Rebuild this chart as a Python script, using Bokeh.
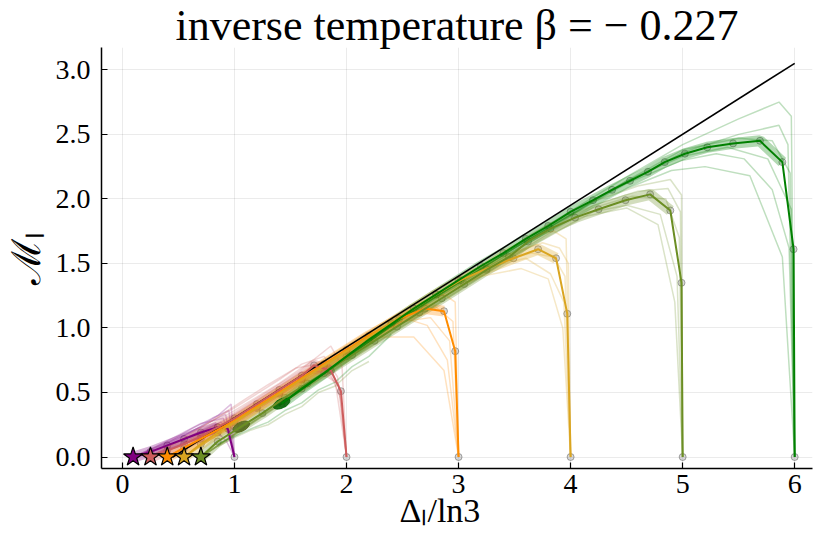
from bokeh.plotting import figure
from bokeh.models import Range1d, FixedTicker, PrintfTickFormatter
from bokeh.embed import file_html
from bokeh.resources import INLINE

# ---------------- data ----------------
TITLE = "inverse temperature β = − 0.227"
X_LABEL = "Δₗ/ln3\u00a0\u00a0\u00a0\u00a0"
Y_LABEL = "ℳₗ"
X_TICKS = [0, 1, 2, 3, 4, 5, 6]
Y_TICKS = [0.0, 0.5, 1.0, 1.5, 2.0, 2.5, 3.0]

COLORS = ["#800080", "#CD5C5C", "#FF8C00", "#DAA520", "#6B8E23", "#008000"]

# reference line
REF_X = [0.45, 6.0]
REF_Y = [0.0, 3.05]

# stars (first point of each series)
STAR_X = [0.095, 0.25, 0.40, 0.55, 0.70]
STAR_Y = [0.0, 0.0, 0.0, 0.0, 0.0]
STAR_COLORS = ["#800080", "#CD5C5C", "#FF8C00", "#DAA520", "#6B8E23"]

# main (averaged) curves
MAIN_X = [
    [0.10, 0.25, 0.40, 0.55, 0.70, 0.85, 0.94, 1.00],
    [0.25, 0.40, 0.55, 0.70, 0.85, 1.00, 1.20, 1.40, 1.60, 1.71, 1.86, 1.95, 2.00],
    [0.40, 0.55, 0.70, 0.85, 1.00, 1.20, 1.40, 1.60, 1.80, 2.00, 2.20, 2.47, 2.70, 2.87, 2.97, 3.00],
    [0.55, 0.70, 0.85, 1.00, 1.20, 1.40, 1.60, 1.80, 2.00, 2.20, 2.40, 2.60, 2.80, 3.02, 3.25, 3.49,
     3.71, 3.87, 3.97, 4.00],
    [0.70, 0.85, 1.06, 1.25, 1.45, 1.65, 1.85, 2.05, 2.25, 2.45, 2.65, 2.85, 3.05, 3.25, 3.45, 3.62,
     3.82, 4.04, 4.25, 4.49, 4.71, 4.89, 4.99, 5.00],
    [1.42, 1.60, 1.80, 2.00, 2.20, 2.40, 2.60, 2.80, 3.00, 3.20, 3.40, 3.60, 3.80, 4.00, 4.20, 4.37,
     4.53, 4.69, 4.84, 5.02, 5.22, 5.45, 5.69, 5.89, 5.99, 6.00],
]
MAIN_Y = [
    [0.00, 0.04, 0.09, 0.14, 0.19, 0.23, 0.22, 0.00],
    [0.00, 0.05, 0.10, 0.16, 0.23, 0.30, 0.41, 0.52, 0.63, 0.71, 0.67, 0.51, 0.00],
    [0.00, 0.07, 0.14, 0.21, 0.28, 0.39, 0.50, 0.61, 0.72, 0.83, 0.94, 1.07, 1.15, 1.13, 0.82, 0.00],
    [0.00, 0.10, 0.19, 0.27, 0.38, 0.49, 0.60, 0.71, 0.82, 0.93, 1.04, 1.15, 1.26, 1.37, 1.46, 1.54,
     1.61, 1.54, 1.11, 0.00],
    [0.00, 0.12, 0.235, 0.34, 0.46, 0.57, 0.68, 0.79, 0.90, 1.01, 1.12, 1.23, 1.34, 1.45, 1.55, 1.67,
     1.77, 1.855, 1.92, 1.99, 2.035, 1.91, 1.35, 0.00],
    [0.415, 0.53, 0.65, 0.78, 0.91, 1.03, 1.15, 1.26, 1.37, 1.48, 1.58, 1.69, 1.79, 1.90, 1.99, 2.07,
     2.14, 2.21, 2.285, 2.35, 2.40, 2.43, 2.45, 2.285, 1.61, 0.00],
]

# individual (faint) curves, per series
FAINT_X = [
    [[0.10, 0.30, 0.50, 0.70, 0.85, 0.97, 1.00],
     [0.10, 0.30, 0.50, 0.70, 0.88, 0.96, 1.00],
     [0.10, 0.30, 0.50, 0.70, 0.85, 0.93, 1.00],
     [0.10, 0.30, 0.50, 0.70, 0.90, 1.00],
     [0.10, 0.25, 0.45, 0.60, 0.78, 0.92, 1.00],
     [0.10, 0.28, 0.42, 0.62, 0.80, 0.95, 1.00]],
    [[0.25, 0.60, 1.00, 1.40, 1.70, 1.86, 1.96, 2.00],
     [0.25, 0.60, 1.00, 1.40, 1.65, 1.85, 1.95, 2.00],
     [0.25, 0.60, 1.00, 1.40, 1.60, 1.80, 1.93, 2.00],
     [0.25, 0.60, 1.00, 1.40, 1.60, 1.80, 1.92, 2.00],
     [0.25, 0.50, 0.80, 1.10, 1.30, 1.55, 1.75, 1.90, 2.00]],
    [[0.40, 1.00, 1.60, 2.20, 2.60, 2.87, 2.97, 3.00],
     [0.40, 1.00, 1.60, 2.00, 2.30, 2.60, 2.87, 3.00],
     [0.40, 1.00, 1.60, 2.20, 2.50, 2.75, 2.92, 3.00],
     [0.40, 1.00, 1.60, 2.20, 2.50, 2.72, 2.90, 3.00],
     [0.40, 1.00, 1.60, 2.20, 2.55, 2.80, 2.95, 3.00]],
    [[0.55, 1.20, 2.00, 2.80, 3.40, 3.70, 3.85, 3.96, 4.00],
     [0.55, 1.20, 2.00, 2.80, 3.20, 3.56, 3.80, 3.93, 4.00],
     [0.55, 1.20, 2.00, 2.80, 3.30, 3.65, 3.85, 3.95, 4.00],
     [0.55, 1.20, 2.00, 2.80, 3.30, 3.60, 3.82, 3.94, 4.00],
     [0.55, 1.20, 2.00, 2.80, 3.40, 3.75, 3.90, 3.98, 4.00]],
    [[0.70, 1.50, 2.50, 3.50, 4.20, 4.60, 4.89, 4.99, 5.00],
     [0.70, 1.50, 2.50, 3.50, 4.20, 4.50, 4.80, 4.95, 5.00],
     [0.70, 1.50, 2.50, 3.50, 4.20, 4.55, 4.85, 4.97, 5.00],
     [0.70, 1.50, 2.50, 3.50, 4.10, 4.50, 4.78, 4.93, 5.00],
     [0.70, 1.50, 2.50, 3.50, 4.20, 4.60, 4.87, 4.98, 5.00],
     [0.85, 1.00, 1.15, 1.30, 1.45, 1.60, 1.75, 1.90, 2.05, 2.20]],
    [[1.40, 2.50, 3.50, 4.50, 5.00, 5.50, 5.86, 5.97, 6.00],
     [1.40, 2.50, 3.50, 4.50, 5.00, 5.50, 5.86, 5.94, 6.00],
     [1.40, 2.50, 3.50, 4.50, 4.90, 5.20, 5.60, 5.89, 6.00],
     [1.40, 2.50, 3.50, 4.50, 5.00, 5.40, 5.76, 5.97, 6.00],
     [1.40, 2.50, 3.50, 4.50, 5.00, 5.30, 5.55, 5.80, 5.95, 6.00],
     [1.40, 2.50, 3.50, 4.50, 5.00, 5.50, 5.80, 5.96, 6.00],
     [0.85, 1.00, 1.15, 1.30, 1.45, 1.60, 1.75, 1.90, 2.05, 2.20, 2.40]],
]
FAINT_Y = [
    [[0.00, 0.06, 0.14, 0.24, 0.32, 0.41, 0.00],
     [0.00, 0.05, 0.12, 0.20, 0.27, 0.20, 0.00],
     [0.00, 0.03, 0.09, 0.15, 0.19, 0.12, 0.00],
     [0.00, 0.08, 0.17, 0.26, 0.30, 0.00],
     [0.00, 0.05, 0.13, 0.19, 0.27, 0.33, 0.00],
     [0.00, 0.07, 0.12, 0.22, 0.30, 0.36, 0.00]],
    [[0.00, 0.16, 0.36, 0.57, 0.75, 0.86, 0.70, 0.00],
     [0.00, 0.12, 0.31, 0.52, 0.66, 0.66, 0.45, 0.00],
     [0.00, 0.14, 0.33, 0.55, 0.66, 0.64, 0.56, 0.00],
     [0.00, 0.18, 0.38, 0.60, 0.72, 0.78, 0.62, 0.00],
     [0.00, 0.12, 0.28, 0.45, 0.56, 0.69, 0.72, 0.58, 0.00]],
    [[0.00, 0.30, 0.63, 0.96, 1.18, 1.26, 1.20, 0.00],
     [0.00, 0.27, 0.58, 0.79, 0.93, 0.93, 0.67, 0.00],
     [0.00, 0.29, 0.60, 0.92, 1.05, 1.08, 0.90, 0.00],
     [0.00, 0.28, 0.61, 0.94, 1.08, 1.02, 0.75, 0.00],
     [0.00, 0.29, 0.62, 0.95, 1.10, 1.16, 1.05, 0.00]],
    [[0.00, 0.38, 0.82, 1.26, 1.60, 1.72, 1.75, 1.69, 0.00],
     [0.00, 0.37, 0.81, 1.24, 1.40, 1.46, 1.38, 1.00, 0.00],
     [0.00, 0.38, 0.82, 1.25, 1.50, 1.58, 1.55, 1.40, 0.00],
     [0.00, 0.38, 0.82, 1.25, 1.48, 1.54, 1.42, 1.20, 0.00],
     [0.00, 0.38, 0.82, 1.26, 1.56, 1.66, 1.62, 1.50, 0.00]],
    [[0.00, 0.48, 1.03, 1.58, 1.98, 2.10, 2.15, 2.03, 0.00],
     [0.00, 0.46, 1.01, 1.56, 1.90, 1.95, 1.88, 1.40, 0.00],
     [0.00, 0.47, 1.02, 1.57, 1.93, 2.02, 2.00, 1.70, 0.00],
     [0.00, 0.46, 1.01, 1.56, 1.86, 1.93, 1.80, 1.20, 0.00],
     [0.00, 0.47, 1.02, 1.57, 1.95, 2.06, 2.08, 1.90, 0.00],
     [0.08, 0.15, 0.21, 0.25, 0.33, 0.39, 0.50, 0.55, 0.67, 0.74]],
    [[0.40, 1.08, 1.64, 2.17, 2.42, 2.62, 2.75, 2.64, 0.00],
     [0.40, 1.08, 1.62, 2.13, 2.36, 2.50, 2.57, 2.42, 0.00],
     [0.40, 1.07, 1.60, 2.08, 2.22, 2.25, 2.18, 1.55, 0.00],
     [0.40, 1.08, 1.62, 2.14, 2.33, 2.40, 2.31, 1.92, 0.00],
     [0.40, 1.08, 1.62, 2.12, 2.30, 2.35, 2.31, 2.07, 1.62, 0.00],
     [0.40, 1.08, 1.62, 2.14, 2.38, 2.47, 2.45, 2.20, 0.00],
     [0.10, 0.16, 0.22, 0.27, 0.36, 0.42, 0.52, 0.58, 0.70, 0.78, 0.95]],
]

# dense clusters of points near the start of the last two series
BLOB_X = [1.06, 1.42]
BLOB_Y = [0.235, 0.415]
BLOB_COLORS = ["#556B1F", "#006000"]

# ---------------- figure ----------------
FONT = "Liberation Serif"

p = figure(width=814, height=538, output_backend="svg", toolbar_location=None,
           x_range=Range1d(-0.187, 6.159), y_range=Range1d(-0.089, 3.173),
           min_border_left=100, min_border_right=2, min_border_top=45, min_border_bottom=70,
           title=TITLE)
p.outline_line_color = None
p.background_fill_color = "white"
p.border_fill_color = "white"

p.title.text_font = FONT
p.title.text_font_size = "44px"
p.title.text_font_style = "normal"
p.title.text_color = "black"
p.title.align = "center"
p.title.standoff = -4

for ax in (p.xaxis[0], p.yaxis[0]):
    ax.axis_line_color = "black"
    ax.axis_line_width = 1.5
    ax.major_tick_in = 6
    ax.major_tick_out = 0
    ax.minor_tick_in = 0
    ax.minor_tick_out = 0
    ax.major_tick_line_color = "black"
    ax.major_tick_line_width = 1.2
    ax.major_label_text_font = FONT
    ax.major_label_text_font_size = "28px"
    ax.major_label_text_color = "black"
    ax.axis_label_text_font = FONT
    ax.axis_label_text_font_style = "normal"
    ax.axis_label_text_color = "black"

p.xaxis[0].major_label_standoff = 6
p.yaxis[0].major_label_standoff = 11
p.xaxis[0].axis_label = X_LABEL
p.xaxis[0].axis_label_text_font_size = "34px"
p.xaxis[0].axis_label_standoff = -4
p.yaxis[0].axis_label = Y_LABEL
p.yaxis[0].axis_label_text_font_size = "40px"
p.yaxis[0].axis_label_standoff = 4

p.xaxis[0].ticker = FixedTicker(ticks=X_TICKS)
p.yaxis[0].ticker = FixedTicker(ticks=Y_TICKS)
p.yaxis[0].formatter = PrintfTickFormatter(format="%.1f")
p.xaxis[0].formatter = PrintfTickFormatter(format="%d")

p.xgrid.grid_line_color = "black"
p.xgrid.grid_line_alpha = 0.08
p.ygrid.grid_line_color = "black"
p.ygrid.grid_line_alpha = 0.08

# markers of the averaged curves (under the bundle)
for c, mx, my in zip(COLORS, MAIN_X, MAIN_Y):
    p.scatter(mx, my, marker="circle", size=7, fill_color="gray", fill_alpha=0.3,
              line_color="#444444", line_alpha=0.45)

# halos under the averaged curves (without the final drop), longest series first
for c, mx, my in reversed(list(zip(COLORS, MAIN_X, MAIN_Y))):
    p.line(mx[:-2], my[:-2], line_color=c, line_alpha=0.3, line_width=11)

# faint individual curves
for c, fx, fy in zip(COLORS, FAINT_X, FAINT_Y):
    p.multi_line(fx, fy, line_color=c, line_alpha=0.25, line_width=1.5)

p.ellipse(BLOB_X, BLOB_Y, width=18, height=9, width_units="screen", height_units="screen",
          angle=0.45, fill_color=BLOB_COLORS, line_color=BLOB_COLORS, fill_alpha=0.85)

p.line(REF_X, REF_Y, line_color="black", line_width=1.6)

for c, mx, my in zip(COLORS, MAIN_X, MAIN_Y):
    p.line(mx, my, line_color=c, line_width=2)

p.scatter(STAR_X, STAR_Y, marker="star", size=20, fill_color=STAR_COLORS,
          line_color="black", line_width=1.2)

open("out.html", "w").write(file_html(p, INLINE))
